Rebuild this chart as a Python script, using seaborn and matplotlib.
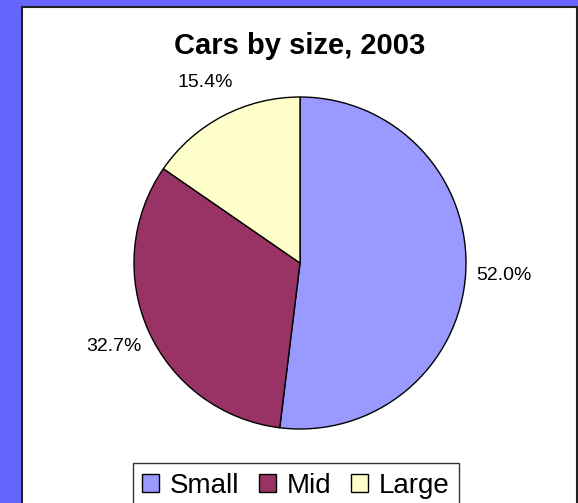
import matplotlib
matplotlib.use("Agg")
import matplotlib.pyplot as plt
from matplotlib.patches import Rectangle, Patch
import seaborn as sns

categories = ["Small", "Mid", "Large"]
values = [52.0, 32.7, 15.4]
colors = ["#9999FF", "#993366", "#FFFFCC"]
title = "Cars by size, 2003"

sns.set_theme(style="white")
plt.rcParams['font.family'] = ['Liberation Sans', 'DejaVu Sans']
plt.rcParams['text.color'] = 'black'

W, H = 578, 503
fig = plt.figure(figsize=(W / 100, H / 100), dpi=100, facecolor="#6666FF")

# white panel
panel = Rectangle((22 / W, -0.05), (577 - 22) / W, (H - 7) / H + 0.05,
                  transform=fig.transFigure, facecolor="white",
                  edgecolor="#222222", linewidth=1.5, zorder=-5)
fig.patches.append(panel)

cx, cy, r = 300, 263, 166
half = r * 1.25
ax = fig.add_axes([(cx - half) / W, (H - cy - half) / H, 2 * half / W, 2 * half / H])
ax.set_zorder(2)
ax.set_facecolor("none")
total = sum(values)
wedges, texts, autotexts = ax.pie(
    values, colors=colors, startangle=90, counterclock=False,
    autopct=lambda p: f"{p * total / 100:.1f}%", pctdistance=1.23,
    wedgeprops=dict(edgecolor="black", linewidth=1.0),
    textprops=dict(fontsize=14, color="black"))
ax.set_xlim(-1.25, 1.25)
ax.set_ylim(-1.25, 1.25)
ax.set_aspect("equal")
ax.axis("off")

fig.text(cx / W, 1 - 46 / H, title, ha="center", va="center",
         fontsize=21, fontweight="bold", color="black")

handles = [Patch(facecolor=c, edgecolor="black", linewidth=1.0) for c in colors]
leg = fig.legend(handles, categories, loc="upper center",
                 bbox_to_anchor=(296 / W, 1 - 463 / H), ncol=3,
                 fontsize=20, frameon=True, fancybox=False,
                 handlelength=0.6, handleheight=0.6, handletextpad=0.4,
                 columnspacing=0.7, borderpad=0.35, borderaxespad=0)
leg.set_zorder(3)
for t in leg.get_texts():
    t.set_color("black")
leg.get_frame().set_edgecolor("black")
leg.get_frame().set_linewidth(1.0)
leg.get_frame().set_facecolor("white")

fig.savefig("out.png", dpi=100, facecolor=fig.get_facecolor())
